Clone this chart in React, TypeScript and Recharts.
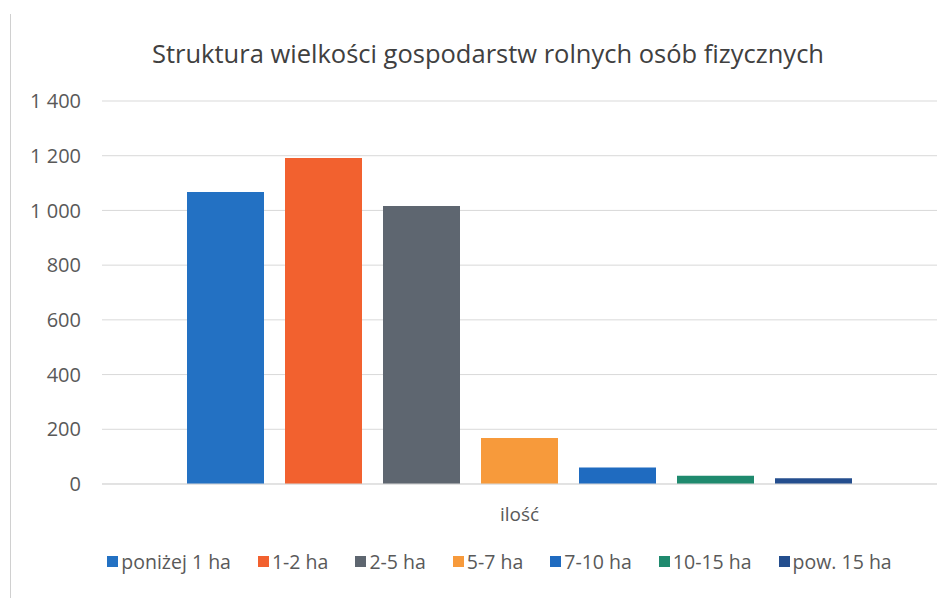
import React from "react";
import { BarChart, Bar, XAxis, YAxis, CartesianGrid, Legend } from "recharts";

const categories = ["ilość"];
const seriesNames = ["poniżej 1 ha", "1-2 ha", "2-5 ha", "5-7 ha", "7-10 ha", "10-15 ha", "pow. 15 ha"];
const seriesValues = [1067, 1192, 1016, 168, 60, 30, 21];
const seriesColors = ["#2371C3", "#F2612F", "#5E6670", "#F79A3B", "#1F6BC0", "#1F8A6E", "#244E8E"];
const yTicks = [0, 200, 400, 600, 800, 1000, 1200, 1400];

const data = categories.map((c) => {
  const row: Record<string, string | number> = { name: c };
  seriesNames.forEach((s, i) => {
    row[s] = seriesValues[i];
  });
  return row;
});

const fmt = (v: number) => {
  const s = String(v);
  return s.length > 3 ? s.slice(0, s.length - 3) + " " + s.slice(-3) : s;
};

const FONT = "'Open Sans', sans-serif";
const TXT = "#595959";

const LegendContent = () => (
  <div style={{ display: "flex", justifyContent: "center", fontFamily: FONT, fontSize: 19.5, color: TXT, paddingTop: 14, paddingLeft: 50 }}>
    {seriesNames.map((s, i) => (
      <div key={s} style={{ display: "flex", alignItems: "center", marginRight: i < seriesNames.length - 1 ? 27 : 0 }}>
        <div style={{ width: 11, height: 11, background: seriesColors[i], marginRight: 3 }} />
        <span>{s}</span>
      </div>
    ))}
  </div>
);

export default function App() {
  return (
    <div style={{ position: "absolute", left: 0, top: 0, width: 952, height: 598, background: "#fff" }}>
      <div style={{ position: "absolute", left: 10, top: 14, width: 1, height: 584, background: "#d0d0d0" }} />
      <div
        style={{
          position: "absolute",
          left: 0,
          top: 36,
          width: 976,
          textAlign: "center",
          fontFamily: FONT,
          fontSize: 25.5,
          color: "#404040",
        }}
      >
        Struktura wielkości gospodarstw rolnych osób fizycznych
      </div>
      <BarChart
        width={952}
        height={598}
        data={data}
        margin={{ top: 101, right: 15, left: 12, bottom: 10 }}
        barSize={77}
        barGap={21}
        style={{ position: "absolute", left: 0, top: 0 }}
      >
        <CartesianGrid vertical={false} stroke="#d9d9d9" />
        <XAxis
          dataKey="name"
          axisLine={{ stroke: "#d9d9d9" }}
          tickLine={false}
          height={50}
          tickMargin={18}
          tick={{ fontFamily: FONT, fontSize: 19, fill: TXT }}
        />
        <YAxis
          domain={[0, 1400]}
          ticks={yTicks}
          width={90}
          axisLine={false}
          tickLine={false}
          tickSize={0}
          tickMargin={21}
          tickFormatter={fmt}
          tick={{ fontFamily: FONT, fontSize: 20, fill: TXT }}
        />
        <Legend verticalAlign="bottom" height={54} content={<LegendContent />} />
        {seriesNames.map((s, i) => (
          <Bar key={s} dataKey={s} fill={seriesColors[i]} isAnimationActive={false} />
        ))}
      </BarChart>
    </div>
  );
}
